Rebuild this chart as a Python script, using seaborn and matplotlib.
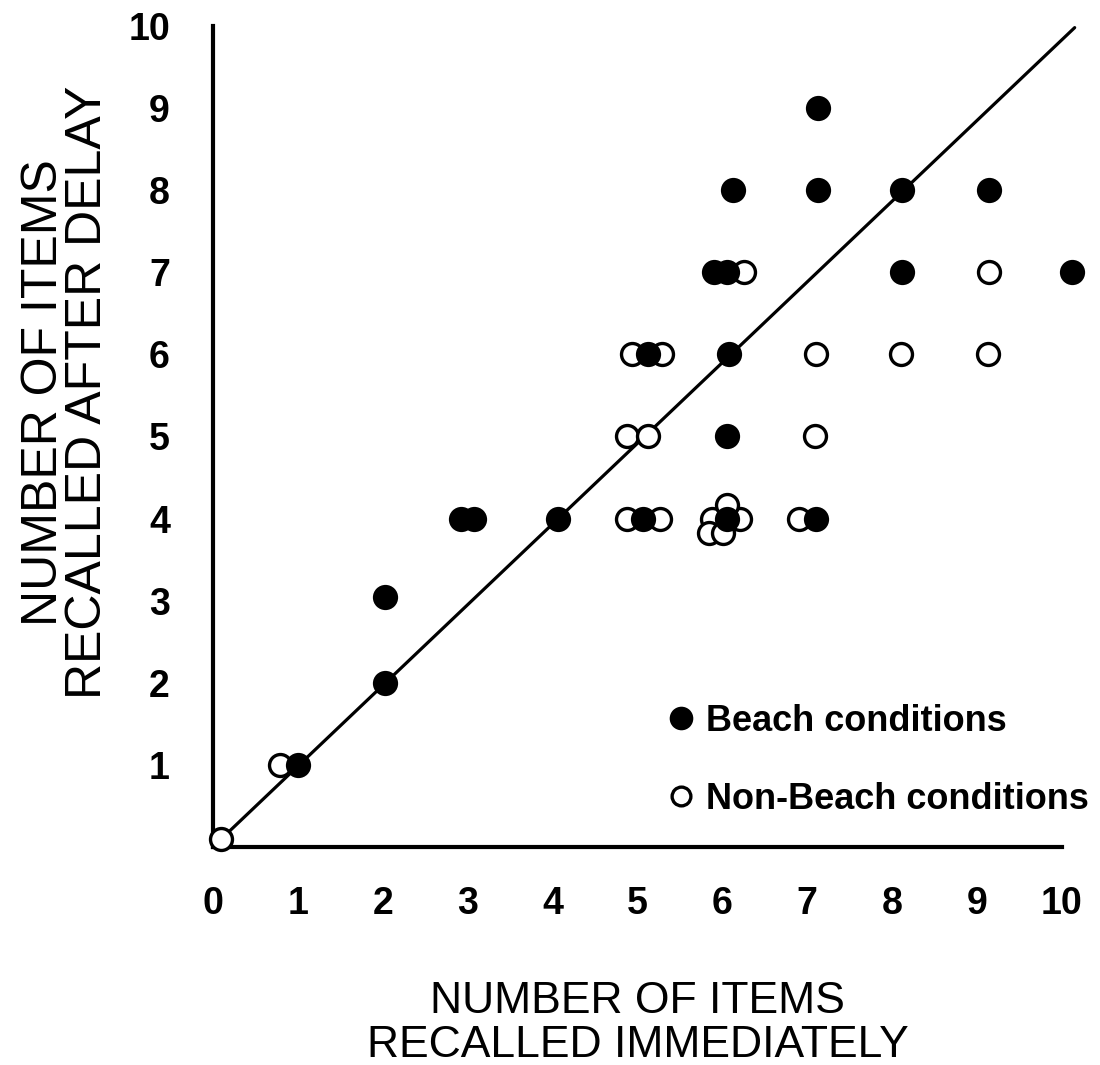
import matplotlib
matplotlib.use("Agg")
import matplotlib.pyplot as plt
import seaborn as sns
from matplotlib import font_manager
from matplotlib.lines import Line2D

# ---- data ----
beach_x = [1.0, 2.03, 2.03, 2.92, 3.07, 4.07, 5.07, 5.12, 6.06, 6.06, 6.08, 5.9, 6.06,
           6.12, 7.1, 7.13, 7.13, 8.12, 8.12, 9.14, 10.12]
beach_y = [1.0, 2.0, 3.04, 4.0, 4.0, 4.0, 4.0, 6.0, 4.0, 5.0, 6.0, 7.0, 7.0,
           8.0, 4.0, 8.0, 9.0, 8.0, 7.0, 8.0, 7.0]

nonbeach_x = [0.1, 0.79, 4.88, 5.27, 4.88, 5.12, 4.94, 5.29, 5.88, 6.21, 6.06, 5.84, 6.01,
              6.25, 6.9, 7.09, 7.1, 8.1, 9.13, 9.14]
nonbeach_y = [0.1, 1.0, 4.0, 4.0, 5.0, 5.0, 6.0, 6.0, 4.0, 4.0, 4.17, 3.82, 3.82,
              7.0, 4.0, 5.0, 6.0, 6.0, 6.0, 7.0]

line_x = [0.1, 10.15]
line_y = [0.1, 9.98]

x_ticks = [0, 1, 2, 3, 4, 5, 6, 7, 8, 9, 10]
y_ticks = [1, 2, 3, 4, 5, 6, 7, 8, 9, 10]
x_label = "NUMBER OF ITEMS\nRECALLED IMMEDIATELY"
y_label = "NUMBER OF ITEMS\nRECALLED AFTER DELAY"
legend_labels = ["Beach conditions", "Non-Beach conditions"]

sns.set_style("white")
names = {f.name for f in font_manager.fontManager.ttflist}
base = ["Liberation Sans", "DejaVu Sans"]
narrow = ["Liberation Sans Narrow"] + base if "Liberation Sans Narrow" in names else base
plt.rcParams["font.family"] = base
for k in ["text.color", "axes.labelcolor", "xtick.color", "ytick.color", "axes.edgecolor"]:
    plt.rcParams[k] = "black"

fig = plt.figure(figsize=(11, 10.65), dpi=100)
ax = fig.add_axes([0.1936, 0.2047, 0.7718, 0.7709])

ax.plot(line_x, line_y, color="black", lw=2.3, solid_capstyle="round", zorder=2, clip_on=False)

sns.scatterplot(x=nonbeach_x, y=nonbeach_y, ax=ax, marker="o", s=250,
                facecolor="white", edgecolor="black", linewidth=2.4, zorder=3, clip_on=False)
sns.scatterplot(x=beach_x, y=beach_y, ax=ax, marker="o", s=330,
                color="black", linewidth=0, zorder=4, clip_on=False)

ax.set_xlim(0, 10)
ax.set_ylim(0, 10)
ax.set_xticks(x_ticks)
ax.set_yticks(y_ticks)
ax.set_xticklabels([str(t) for t in x_ticks], fontsize=27, fontweight="bold")
ax.set_yticklabels([str(t) for t in y_ticks], fontsize=27, fontweight="bold")
ax.tick_params(axis="x", direction="out", length=12, width=1.6, color="black", pad=16)
ax.tick_params(axis="y", direction="out", length=11, width=1.6, color="black", pad=20)

for side in ["top", "right"]:
    ax.spines[side].set_visible(False)
for side in ["left", "bottom"]:
    ax.spines[side].set_linewidth(3)
    ax.spines[side].set_color("black")

ax.set_xlabel(x_label, fontsize=32, linespacing=1.1)
ax.xaxis.set_label_coords(0.5, -0.215)
ax.xaxis.label.set_va("center")
ax.set_ylabel(y_label, fontsize=36, linespacing=0.95, family=narrow, va="center")
ax.yaxis.set_label_coords(-0.173, 0.554)

handles = [
    Line2D([], [], marker="o", linestyle="none", markersize=17, markerfacecolor="black",
           markeredgewidth=0),
    Line2D([], [], marker="o", linestyle="none", markersize=13.5, markerfacecolor="white",
           markeredgecolor="black", markeredgewidth=2.4),
]
leg = ax.legend(handles, legend_labels, frameon=False, loc="lower left",
                bbox_to_anchor=(0.513, 0.019), prop={"size": 26, "weight": "bold"},
                handletextpad=0.2, labelspacing=1.2, handlelength=1.0, borderaxespad=0)

fig.savefig("out.png", dpi=100, facecolor="white")
